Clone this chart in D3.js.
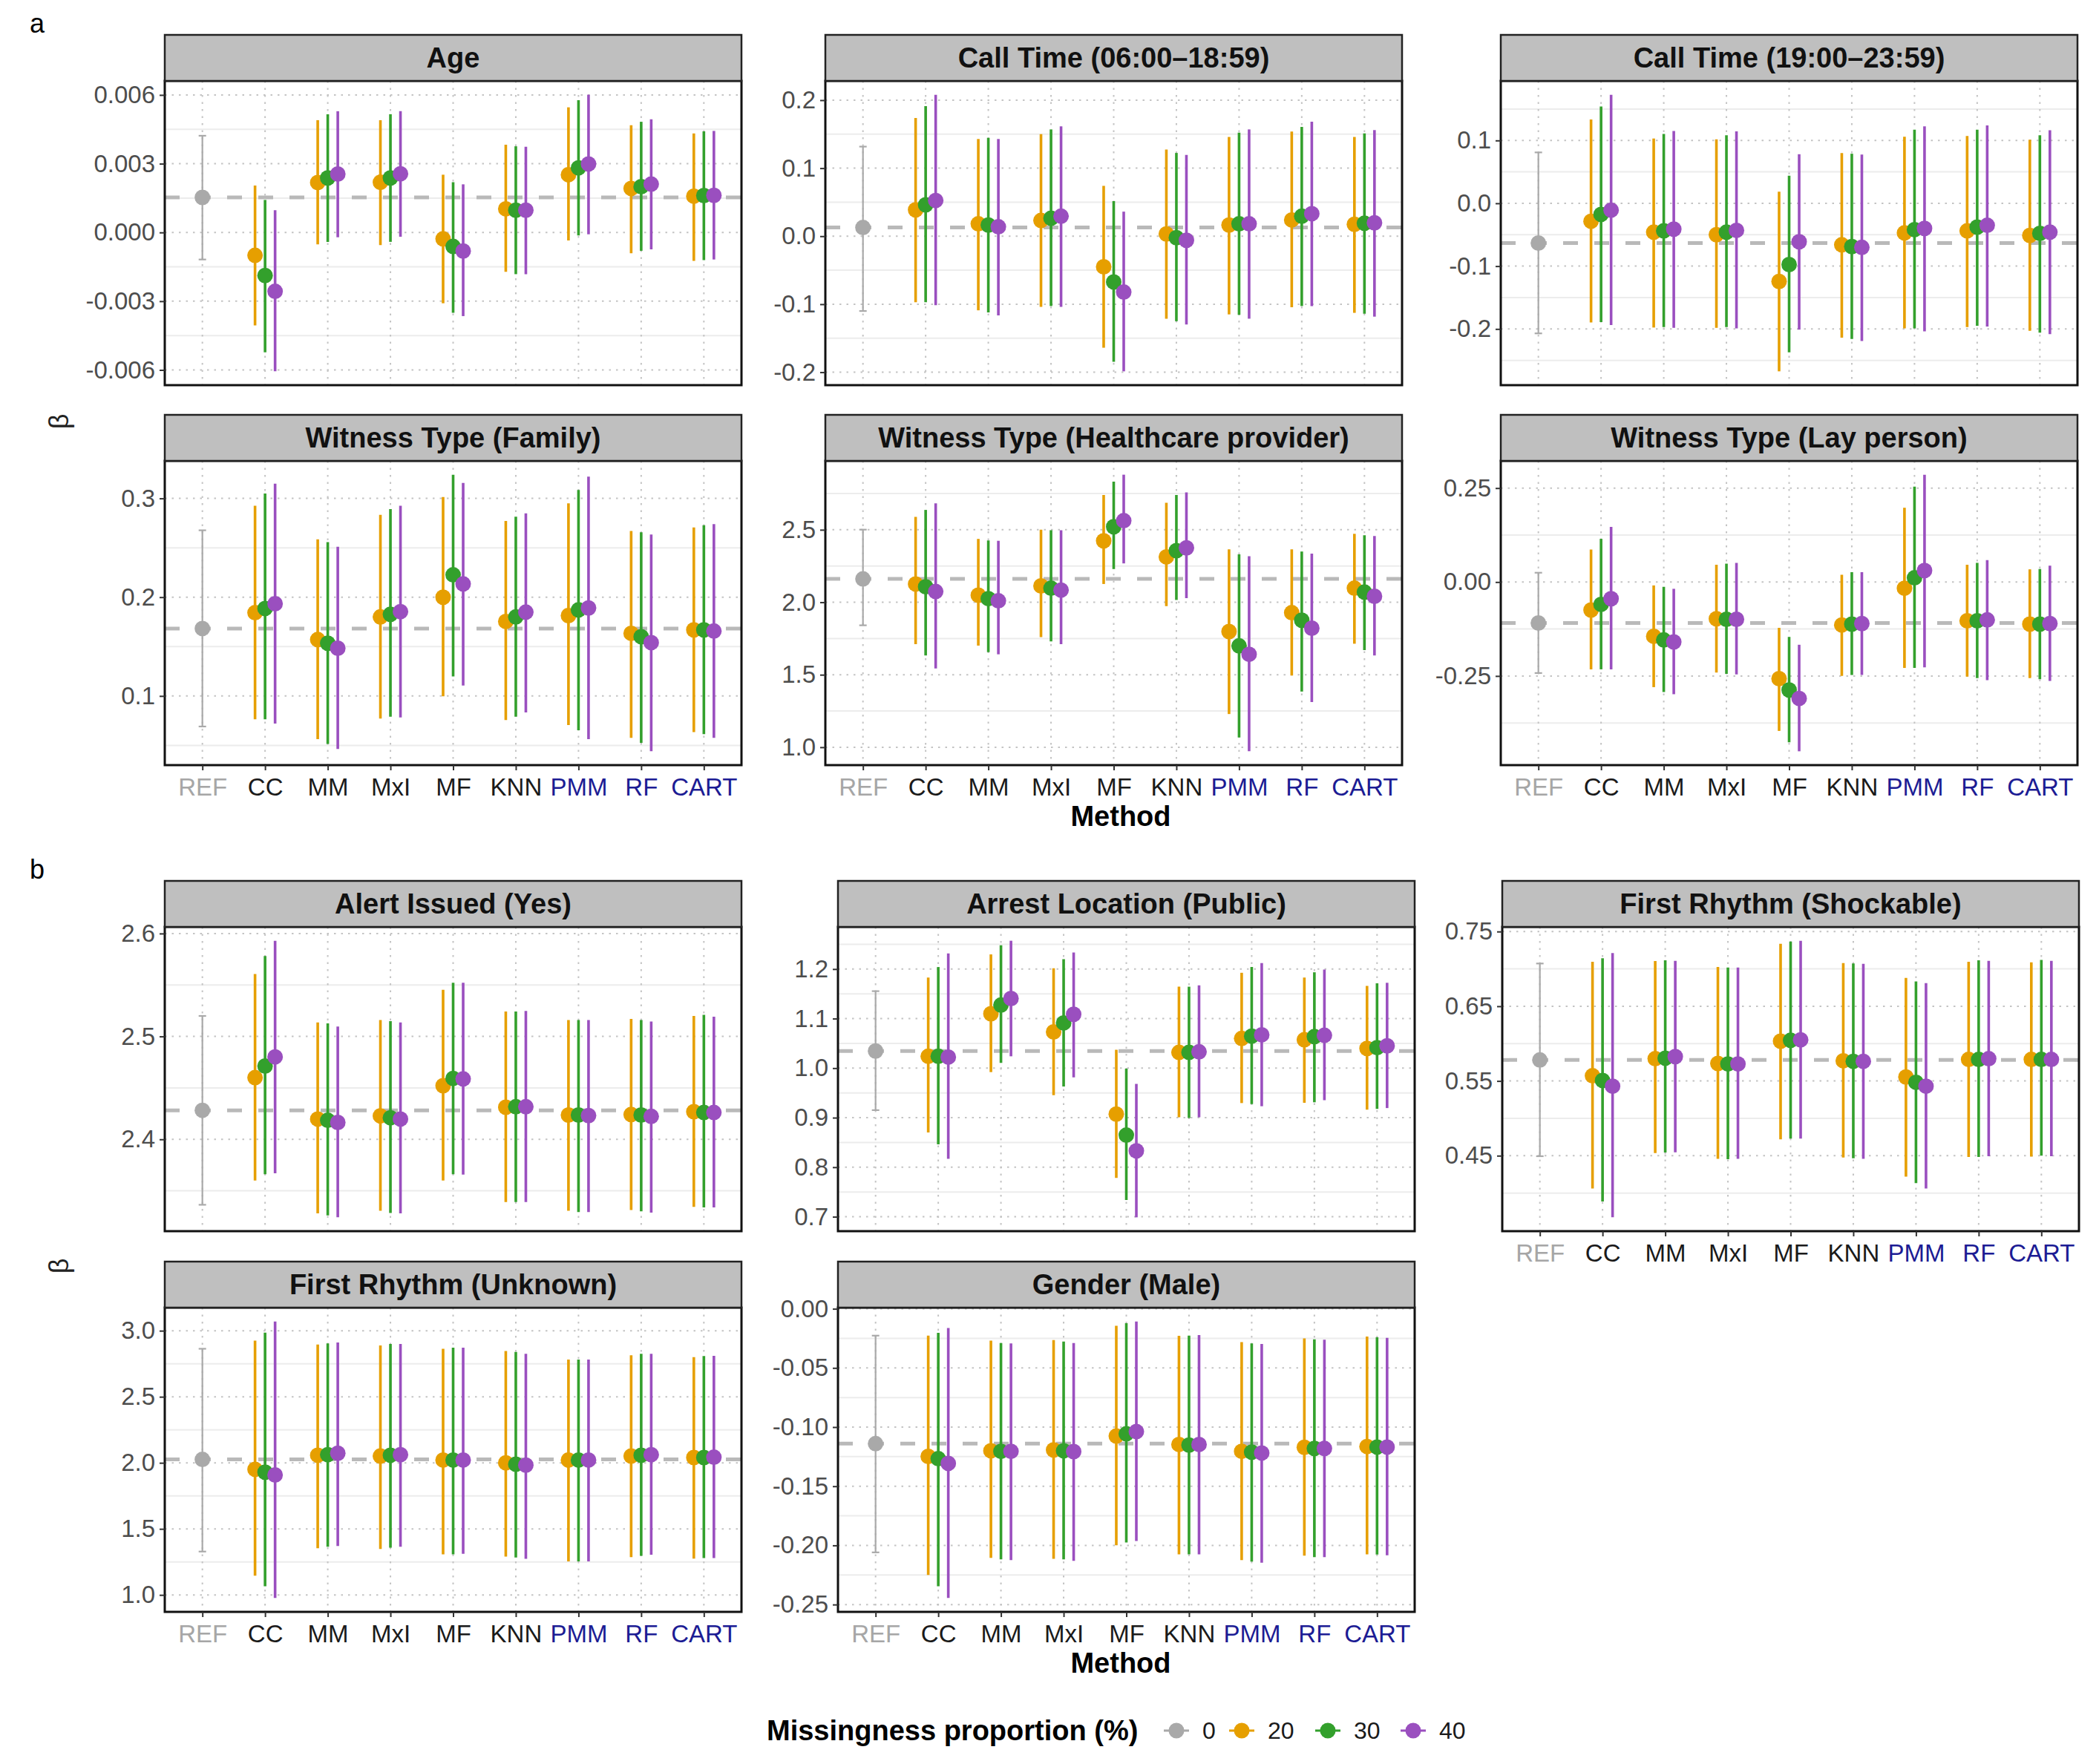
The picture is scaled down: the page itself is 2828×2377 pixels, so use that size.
<!DOCTYPE html>
<html lang="en">
  <head>
    <meta charset="UTF-8">
    <title>Estimates by imputation method</title>
    <style>
      html, body {
        margin: 0;
        padding: 0;
        background: #fff;
      }
      text {
        font-family: "Liberation Sans", Arial, sans-serif;
      }
    </style>
  </head>
  <body>
    <svg width="2828" height="2377"></svg>
    <script src="https://cdn.jsdelivr.net/npm/d3@7/dist/d3.min.js"></script>
    <script>

      // categories
      const methods = ['REF', 'CC', 'MM', 'MxI', 'MF', 'KNN', 'PMM', 'RF', 'CART']
      const proportions = ['0', '20', '30', '40']

      // each panel: REF [est, lo, hi], then per method (CC..CART) [est, lo, hi] for 20 / 30 / 40 %
      const ageRef = [0.00153, -0.00118, 0.00422]
      const age = [
        [[-0.00100, -0.00406, 0.00205], [-0.00188, -0.00523, 0.00142], [-0.00257, -0.00606, 0.00097]],
        [[0.00218, -0.00052, 0.00490], [0.00238, -0.00041, 0.00516], [0.00255, -0.00021, 0.00529]],
        [[0.00219, -0.00055, 0.00490], [0.00238, -0.00041, 0.00516], [0.00256, -0.00019, 0.00529]],
        [[-0.00028, -0.00309, 0.00252], [-0.00061, -0.00351, 0.00219], [-0.00081, -0.00365, 0.00210]],
        [[0.00103, -0.00172, 0.00383], [0.00097, -0.00182, 0.00376], [0.00097, -0.00182, 0.00374]],
        [[0.00252, -0.00035, 0.00546], [0.00282, -0.00013, 0.00577], [0.00299, -0.00008, 0.00601]],
        [[0.00192, -0.00091, 0.00468], [0.00200, -0.00080, 0.00483], [0.00211, -0.00074, 0.00494]],
        [[0.00158, -0.00124, 0.00432], [0.00161, -0.00121, 0.00441], [0.00162, -0.00118, 0.00443]]
      ]
      const ageTicks = [-0.006, -0.003, 0, 0.003, 0.006]

      const callDayRef = [0.0127, -0.110, 0.1317]
      const callDay = [
        [[0.0387, -0.0971, 0.1738], [0.0461, -0.0971, 0.1913], [0.0525, -0.1016, 0.2080]],
        [[0.0182, -0.1090, 0.1429], [0.0164, -0.1120, 0.1447], [0.0138, -0.1165, 0.1429]],
        [[0.0231, -0.1038, 0.1500], [0.0264, -0.1027, 0.1570], [0.0294, -0.1038, 0.1615]],
        [[-0.0450, -0.1640, 0.0740], [-0.0673, -0.1846, 0.0517], [-0.0822, -0.1987, 0.0361]],
        [[0.0033, -0.1213, 0.1273], [-0.0022, -0.1250, 0.1224], [-0.0060, -0.1299, 0.1194]],
        [[0.0164, -0.1150, 0.1459], [0.0182, -0.1157, 0.1522], [0.0182, -0.1213, 0.1570]],
        [[0.0238, -0.1046, 0.1540], [0.0294, -0.1027, 0.1607], [0.0331, -0.1027, 0.1682]],
        [[0.0175, -0.1127, 0.1459], [0.0190, -0.1139, 0.1511], [0.0197, -0.1183, 0.1560]]
      ]
      const callDayTicks = [-0.2, -0.1, 0, 0.1, 0.2]

      const callNightRef = [-0.0632, -0.2070, 0.0810]
      const callNight = [
        [[-0.0286, -0.1897, 0.1333], [-0.0177, -0.1889, 0.1542], [-0.0109, -0.1937, 0.1728]],
        [[-0.0459, -0.1977, 0.1031], [-0.0439, -0.1969, 0.1103], [-0.0411, -0.1981, 0.1152]],
        [[-0.0499, -0.1981, 0.1019], [-0.0459, -0.1969, 0.1083], [-0.0431, -0.1990, 0.1144]],
        [[-0.1244, -0.2674, 0.0185], [-0.0975, -0.2372, 0.0439], [-0.0612, -0.2010, 0.0781]],
        [[-0.0660, -0.2139, 0.0801], [-0.0689, -0.2159, 0.0789], [-0.0701, -0.2191, 0.0777]],
        [[-0.0471, -0.1990, 0.1059], [-0.0419, -0.1990, 0.1172], [-0.0399, -0.2038, 0.1224]],
        [[-0.0439, -0.1969, 0.1071], [-0.0379, -0.1949, 0.1172], [-0.0350, -0.1961, 0.1240]],
        [[-0.0511, -0.2030, 0.1011], [-0.0479, -0.2058, 0.1083], [-0.0459, -0.2082, 0.1164]]
      ]
      const callNightTicks = [-0.2, -0.1, 0, 0.1]

      const familyRef = [0.1683, 0.0691, 0.2677]
      const family = [
        [[0.1843, 0.0763, 0.2926], [0.1886, 0.0763, 0.3049], [0.1934, 0.0720, 0.3149]],
        [[0.1571, 0.0563, 0.2586], [0.1534, 0.0514, 0.2557], [0.1483, 0.0463, 0.2511]],
        [[0.1800, 0.0771, 0.2834], [0.1826, 0.0791, 0.2891], [0.1854, 0.0783, 0.2926]],
        [[0.2000, 0.0997, 0.3014], [0.2226, 0.1197, 0.3240], [0.2134, 0.1106, 0.3157]],
        [[0.1754, 0.0757, 0.2771], [0.1800, 0.0791, 0.2814], [0.1849, 0.0834, 0.2849]],
        [[0.1814, 0.0706, 0.2949], [0.1871, 0.0654, 0.3086], [0.1891, 0.0563, 0.3220]],
        [[0.1634, 0.0577, 0.2671], [0.1600, 0.0526, 0.2657], [0.1540, 0.0440, 0.2634]],
        [[0.1669, 0.0634, 0.2706], [0.1669, 0.0614, 0.2729], [0.1657, 0.0577, 0.2740]]
      ]
      const familyTicks = [0.1, 0.2, 0.3]

      const healthRef = [2.161, 1.841, 2.501]
      const health = [
        [[2.126, 1.711, 2.589], [2.107, 1.633, 2.637], [2.074, 1.543, 2.682]],
        [[2.049, 1.701, 2.437], [2.025, 1.656, 2.427], [2.010, 1.641, 2.424]],
        [[2.113, 1.759, 2.501], [2.097, 1.730, 2.497], [2.084, 1.711, 2.497]],
        [[2.424, 2.126, 2.740], [2.521, 2.229, 2.832], [2.563, 2.268, 2.880]],
        [[2.313, 1.973, 2.686], [2.356, 2.016, 2.740], [2.375, 2.029, 2.758]],
        [[1.798, 1.229, 2.365], [1.699, 1.067, 2.330], [1.641, 0.972, 2.317]],
        [[1.928, 1.495, 2.365], [1.876, 1.384, 2.350], [1.821, 1.312, 2.336]],
        [[2.097, 1.714, 2.472], [2.070, 1.670, 2.462], [2.041, 1.633, 2.457]]
      ]
      const healthTicks = [1.0, 1.5, 2.0, 2.5]

      const layRef = [-0.109, -0.2421, 0.0248]
      const lay = [
        [[-0.0744, -0.2323, 0.0865], [-0.0594, -0.2323, 0.1150], [-0.0444, -0.2323, 0.1466]],
        [[-0.1444, -0.2797, -0.0090], [-0.1541, -0.2925, -0.0128], [-0.1594, -0.2985, -0.0180]],
        [[-0.0977, -0.2406, 0.0459], [-0.0992, -0.2444, 0.0489], [-0.0992, -0.2459, 0.0511]],
        [[-0.2571, -0.3962, -0.1218], [-0.2872, -0.4263, -0.1459], [-0.3098, -0.4504, -0.1669]],
        [[-0.1143, -0.2496, 0.0195], [-0.1120, -0.2474, 0.0263], [-0.1105, -0.2474, 0.0263]],
        [[-0.0165, -0.2286, 0.1977], [0.0113, -0.2286, 0.2541], [0.0308, -0.2271, 0.2857]],
        [[-0.1030, -0.2519, 0.0459], [-0.1030, -0.2556, 0.0511], [-0.1008, -0.2609, 0.0586]],
        [[-0.1120, -0.2556, 0.0338], [-0.1120, -0.2586, 0.0346], [-0.1105, -0.2632, 0.0436]]
      ]
      const layTicks = [-0.25, 0, 0.25]

      const alertRef = [2.4282, 2.3364, 2.5199]
      const alert = [
        [[2.4600, 2.3599, 2.5606], [2.4712, 2.3662, 2.5782], [2.4801, 2.3670, 2.5930]],
        [[2.4197, 2.3280, 2.5135], [2.4185, 2.3260, 2.5127], [2.4164, 2.3242, 2.5097]],
        [[2.4228, 2.3306, 2.5160], [2.4210, 2.3285, 2.5148], [2.4197, 2.3280, 2.5135]],
        [[2.4521, 2.3599, 2.5453], [2.4592, 2.3662, 2.5522], [2.4587, 2.3657, 2.5522]],
        [[2.4312, 2.3390, 2.5242], [2.4317, 2.3390, 2.5242], [2.4317, 2.3390, 2.5247]],
        [[2.4236, 2.3306, 2.5160], [2.4236, 2.3293, 2.5160], [2.4231, 2.3293, 2.5160]],
        [[2.4241, 2.3313, 2.5171], [2.4236, 2.3301, 2.5160], [2.4223, 2.3288, 2.5145]],
        [[2.4269, 2.3344, 2.5199], [2.4261, 2.3339, 2.5209], [2.4261, 2.3339, 2.5191]]
      ]
      const alertTicks = [2.4, 2.5, 2.6]

      const arrestRef = [1.0345, 0.9152, 1.1554]
      const arrest = [
        [[1.0239, 0.8701, 1.1829], [1.0239, 0.8462, 1.2041], [1.0223, 0.8171, 1.2317]],
        [[1.1098, 0.9920, 1.2296], [1.1273, 1.0106, 1.2481], [1.1405, 1.0239, 1.2572]],
        [[1.0732, 0.9454, 1.2015], [1.0912, 0.9629, 1.2200], [1.1087, 0.9814, 1.2333]],
        [[0.9072, 0.7784, 1.0371], [0.8648, 0.7338, 0.9989], [0.8330, 0.6988, 0.9682]],
        [[1.0318, 0.9008, 1.1644], [1.0318, 0.8993, 1.1644], [1.0329, 0.9008, 1.1670]],
        [[1.0599, 0.9295, 1.1925], [1.0647, 0.9274, 1.2041], [1.0673, 0.9231, 1.2121]],
        [[1.0573, 0.9300, 1.1829], [1.0636, 0.9311, 1.1935], [1.0663, 0.9353, 1.1988]],
        [[1.0398, 0.9162, 1.1660], [1.0414, 0.9178, 1.1713], [1.0451, 0.9194, 1.1723]]
      ]
      const arrestTicks = [0.7, 0.8, 0.9, 1.0, 1.1, 1.2]

      const shockRef = [0.5781, 0.4493, 0.7072]
      const shock = [
        [[0.5570, 0.4061, 0.7096], [0.5507, 0.3886, 0.7142], [0.5430, 0.3675, 0.7212]],
        [[0.5798, 0.4535, 0.7104], [0.5805, 0.4542, 0.7114], [0.5826, 0.4546, 0.7107]],
        [[0.5735, 0.4458, 0.7026], [0.5728, 0.4454, 0.7019], [0.5728, 0.4458, 0.7019]],
        [[0.6033, 0.4718, 0.7335], [0.6044, 0.4728, 0.7367], [0.6051, 0.4728, 0.7377]],
        [[0.5770, 0.4475, 0.7079], [0.5763, 0.4465, 0.7072], [0.5763, 0.4458, 0.7068]],
        [[0.5553, 0.4219, 0.6879], [0.5482, 0.4132, 0.6833], [0.5430, 0.4061, 0.6809]],
        [[0.5788, 0.4482, 0.7096], [0.5788, 0.4482, 0.7114], [0.5798, 0.4493, 0.7107]],
        [[0.5788, 0.4489, 0.7089], [0.5788, 0.4500, 0.7121], [0.5788, 0.4493, 0.7107]]
      ]
      const shockTicks = [0.45, 0.55, 0.65, 0.75]

      const unknownRef = [2.0256, 1.3284, 2.8635]
      const unknown = [
        [[1.9510, 1.1450, 2.9254], [1.9296, 1.0660, 2.9850], [1.9083, 0.9765, 3.0704]],
        [[2.0576, 1.3540, 2.8955], [2.0618, 1.3646, 2.9040], [2.0725, 1.3710, 2.9104]],
        [[2.0512, 1.3475, 2.8890], [2.0576, 1.3582, 2.8998], [2.0618, 1.3646, 2.8998]],
        [[2.0213, 1.3070, 2.8635], [2.0213, 1.3070, 2.8720], [2.0213, 1.3113, 2.8720]],
        [[2.0000, 1.2900, 2.8465], [1.9893, 1.2836, 2.8400], [1.9829, 1.2730, 2.8252]],
        [[2.0213, 1.2537, 2.7825], [2.0213, 1.2537, 2.7825], [2.0213, 1.2537, 2.7825]],
        [[2.0512, 1.2857, 2.8145], [2.0576, 1.2964, 2.8252], [2.0618, 1.3050, 2.8252]],
        [[2.0405, 1.2750, 2.7996], [2.0405, 1.2793, 2.8080], [2.0426, 1.2793, 2.8100]]
      ]
      const unknownTicks = [1.0, 1.5, 2.0, 2.5, 3.0]

      const genderRef = [-0.1140, -0.2059, -0.0227]
      const gender = [
        [[-0.1248, -0.2250, -0.0227], [-0.1267, -0.2345, -0.0203], [-0.1307, -0.2445, -0.0162]],
        [[-0.1200, -0.2106, -0.0270], [-0.1205, -0.2118, -0.0289], [-0.1205, -0.2125, -0.0293]],
        [[-0.1193, -0.2114, -0.0265], [-0.1200, -0.2118, -0.0277], [-0.1207, -0.2130, -0.0289]],
        [[-0.1076, -0.1999, -0.0143], [-0.1057, -0.1975, -0.0122], [-0.1038, -0.1963, -0.0107]],
        [[-0.1147, -0.2075, -0.0229], [-0.1152, -0.2075, -0.0227], [-0.1147, -0.2075, -0.0222]],
        [[-0.1205, -0.2125, -0.0281], [-0.1212, -0.2137, -0.0293], [-0.1219, -0.2147, -0.0298]],
        [[-0.1171, -0.2087, -0.0250], [-0.1181, -0.2099, -0.0258], [-0.1181, -0.2099, -0.0262]],
        [[-0.1164, -0.2075, -0.0234], [-0.1169, -0.2078, -0.0241], [-0.1169, -0.2083, -0.0246]]
      ]
      const genderTicks = [-0.25, -0.2, -0.15, -0.1, -0.05, 0]

      // colours
      const propColors = ['#a9a9a9', '#e69f00', '#33a02c', '#9a4fbf']
      const labelColors = {
        REF: '#a6a6a6', CC: '#1a1a1a', MM: '#1a1a1a', MxI: '#1a1a1a', MF: '#1a1a1a',
        KNN: '#1a1a1a', PMM: '#1c1c94', RF: '#1c1c94', CART: '#1c1c94'
      }

      // layout
      const stripH = 62, panelH = 410, panelW = 777
      const panels = [
        { title: 'Age', ref: ageRef, est: age, ticks: ageTicks, dec: 3, x: 222, y: 47 },
        { title: 'Call Time (06:00\u201318:59)', ref: callDayRef, est: callDay, ticks: callDayTicks, dec: 1, x: 1112, y: 47 },
        { title: 'Call Time (19:00\u201323:59)', ref: callNightRef, est: callNight, ticks: callNightTicks, dec: 1, x: 2022, y: 47 },
        { title: 'Witness Type (Family)', ref: familyRef, est: family, ticks: familyTicks, dec: 1, x: 222, y: 559, xAxis: true },
        { title: 'Witness Type (Healthcare provider)', ref: healthRef, est: health, ticks: healthTicks, dec: 1, x: 1112, y: 559, xAxis: true },
        { title: 'Witness Type (Lay person)', ref: layRef, est: lay, ticks: layTicks, dec: 2, x: 2022, y: 559, xAxis: true },
        { title: 'Alert Issued (Yes)', ref: alertRef, est: alert, ticks: alertTicks, dec: 1, x: 222, y: 1187 },
        { title: 'Arrest Location (Public)', ref: arrestRef, est: arrest, ticks: arrestTicks, dec: 1, x: 1129, y: 1187 },
        { title: 'First Rhythm (Shockable)', ref: shockRef, est: shock, ticks: shockTicks, dec: 2, x: 2024, y: 1187, xAxis: true },
        { title: 'First Rhythm (Unknown)', ref: unknownRef, est: unknown, ticks: unknownTicks, dec: 1, x: 222, y: 1700, xAxis: true },
        { title: 'Gender (Male)', ref: genderRef, est: gender, ticks: genderTicks, dec: 2, x: 1129, y: 1700, xAxis: true }
      ]

      const svg = d3.select('svg')
      const locale = d3.formatLocale({ decimal: '.', thousands: ',', grouping: [3], currency: ['$', ''], minus: '-' })
      const ptR = 10.5

      panels.forEach(function (p) {
        const g = svg.append('g')
        const top = p.y + stripH
        const bottom = top + panelH

        // y domain from the data, expanded 5 % like ggplot
        const vals = p.ref.slice()
        p.est.forEach(function (m) { m.forEach(function (t) { vals.push(t[1], t[2], t[0]) }) })
        const ext = d3.extent(vals)
        const pad = (ext[1] - ext[0]) * 0.05
        const y = d3.scaleLinear().domain([ext[0] - pad, ext[1] + pad]).range([bottom, top])
        const x = d3.scalePoint().domain(methods).range([p.x, p.x + panelW]).padding(0.6)
        const dodge = x.step() * 0.16
        const fmt = locale.format('.' + p.dec + 'f')

        // minor gridlines between major ticks
        const st = p.ticks[1] - p.ticks[0]
        const minor = [p.ticks[0] - st / 2].concat(p.ticks.map(function (t) { return t + st / 2 }))
          .filter(function (v) { return v > y.domain()[0] && v < y.domain()[1] })
        g.selectAll('.minor').data(minor).enter().append('line')
          .attr('x1', p.x).attr('x2', p.x + panelW)
          .attr('y1', function (d) { return y(d) }).attr('y2', function (d) { return y(d) })
          .attr('stroke', '#ececec').attr('stroke-width', 2)

        // major gridlines, dotted
        g.selectAll('.hmaj').data(p.ticks).enter().append('line')
          .attr('x1', p.x).attr('x2', p.x + panelW)
          .attr('y1', function (d) { return y(d) }).attr('y2', function (d) { return y(d) })
          .attr('stroke', '#c4c4c4').attr('stroke-width', 2).attr('stroke-dasharray', '2.5,7')
        g.selectAll('.vmaj').data(methods).enter().append('line')
          .attr('x1', function (d) { return x(d) }).attr('x2', function (d) { return x(d) })
          .attr('y1', top).attr('y2', bottom)
          .attr('stroke', '#c4c4c4').attr('stroke-width', 2).attr('stroke-dasharray', '2.5,7')

        // reference dashed line
        g.append('line')
          .attr('x1', p.x).attr('x2', p.x + panelW)
          .attr('y1', y(p.ref[0])).attr('y2', y(p.ref[0]))
          .attr('stroke', '#b9b9b9').attr('stroke-width', 5).attr('stroke-dasharray', '20,22')

        // REF point with error bar
        const rx = x('REF')
        g.append('line').attr('x1', rx).attr('x2', rx).attr('y1', y(p.ref[1])).attr('y2', y(p.ref[2]))
          .attr('stroke', propColors[0]).attr('stroke-width', 2.2)
        ;[p.ref[1], p.ref[2]].forEach(function (v) {
          g.append('line').attr('x1', rx - 5).attr('x2', rx + 5).attr('y1', y(v)).attr('y2', y(v))
            .attr('stroke', propColors[0]).attr('stroke-width', 2.2)
        })
        g.append('circle').attr('cx', rx).attr('cy', y(p.ref[0])).attr('r', ptR).attr('fill', propColors[0])

        // imputation methods
        const rows = []
        p.est.forEach(function (m, i) {
          m.forEach(function (t, k) {
            rows.push({ cx: x(methods[i + 1]) + (k - 1) * dodge, est: t[0], lo: t[1], hi: t[2], col: propColors[k + 1] })
          })
        })
        g.selectAll('.rng').data(rows).enter().append('line')
          .attr('x1', function (d) { return d.cx }).attr('x2', function (d) { return d.cx })
          .attr('y1', function (d) { return y(d.lo) }).attr('y2', function (d) { return y(d.hi) })
          .attr('stroke', function (d) { return d.col }).attr('stroke-width', 3.6)
        g.selectAll('.pt').data(rows).enter().append('circle')
          .attr('cx', function (d) { return d.cx }).attr('cy', function (d) { return y(d.est) })
          .attr('r', ptR).attr('fill', function (d) { return d.col })

        // border and strip
        g.append('rect').attr('x', p.x).attr('y', top).attr('width', panelW).attr('height', panelH)
          .attr('fill', 'none').attr('stroke', '#111').attr('stroke-width', 3)
        g.append('rect').attr('x', p.x).attr('y', p.y).attr('width', panelW).attr('height', stripH)
          .attr('fill', '#bfbfbf').attr('stroke', '#222').attr('stroke-width', 2.5)
        g.append('text').attr('x', p.x + panelW / 2).attr('y', p.y + stripH / 2 + 13)
          .attr('text-anchor', 'middle').attr('font-size', 38).attr('font-weight', 'bold').attr('fill', '#111')
          .text(p.title)

        // y axis
        const ya = g.append('g').attr('transform', 'translate(' + p.x + ',0)')
          .call(d3.axisLeft(y).tickValues(p.ticks).tickFormat(fmt).tickSize(7).tickPadding(6))
        ya.select('.domain').remove()
        ya.selectAll('line').attr('stroke', '#333').attr('stroke-width', 2)
        ya.selectAll('text').attr('font-size', 33).attr('fill', '#4d4d4d')
          .attr('font-family', '"Liberation Sans", Arial, sans-serif')

        // x axis
        if (p.xAxis) {
          const xa = g.append('g').attr('transform', 'translate(0,' + bottom + ')')
            .call(d3.axisBottom(x).tickSize(7).tickPadding(6))
          xa.select('.domain').remove()
          xa.selectAll('line').attr('stroke', '#333').attr('stroke-width', 2)
          xa.selectAll('text').attr('font-size', 33).attr('dy', '0.85em')
            .attr('font-family', '"Liberation Sans", Arial, sans-serif')
            .attr('fill', function (d) { return labelColors[d] })
        }
      })

      // part labels and axis titles
      svg.append('text').attr('x', 40).attr('y', 44).attr('font-size', 36).text('a')
      svg.append('text').attr('x', 40).attr('y', 1184).attr('font-size', 36).text('b')
      ;[568, 1706].forEach(function (cy) {
        svg.append('text').attr('transform', 'translate(92,' + cy + ') rotate(-90)')
          .attr('text-anchor', 'middle').attr('font-size', 36).attr('fill', '#222').text('\u03b2')
      })
      ;[1113, 2254].forEach(function (by) {
        svg.append('text').attr('x', 1510).attr('y', by).attr('text-anchor', 'middle')
          .attr('font-size', 38).attr('font-weight', 'bold').text('Method')
      })

      // legend
      const legend = svg.append('g').attr('transform', 'translate(0,2332)')
      legend.append('text').attr('x', 1033).attr('y', 13).attr('font-size', 38).attr('font-weight', 'bold')
        .text('Missingness proportion (%)')
      const keyX = [1585, 1673, 1789, 1904]
      proportions.forEach(function (pr, i) {
        legend.append('line').attr('x1', keyX[i] - 17).attr('x2', keyX[i] + 17).attr('y1', 0).attr('y2', 0)
          .attr('stroke', propColors[i]).attr('stroke-width', 3)
        legend.append('circle').attr('cx', keyX[i]).attr('cy', 0).attr('r', ptR).attr('fill', propColors[i])
        legend.append('text').attr('x', keyX[i] + 35).attr('y', 11).attr('font-size', 32).attr('fill', '#1a1a1a').text(pr)
      })

    </script>
  </body>
</html>
